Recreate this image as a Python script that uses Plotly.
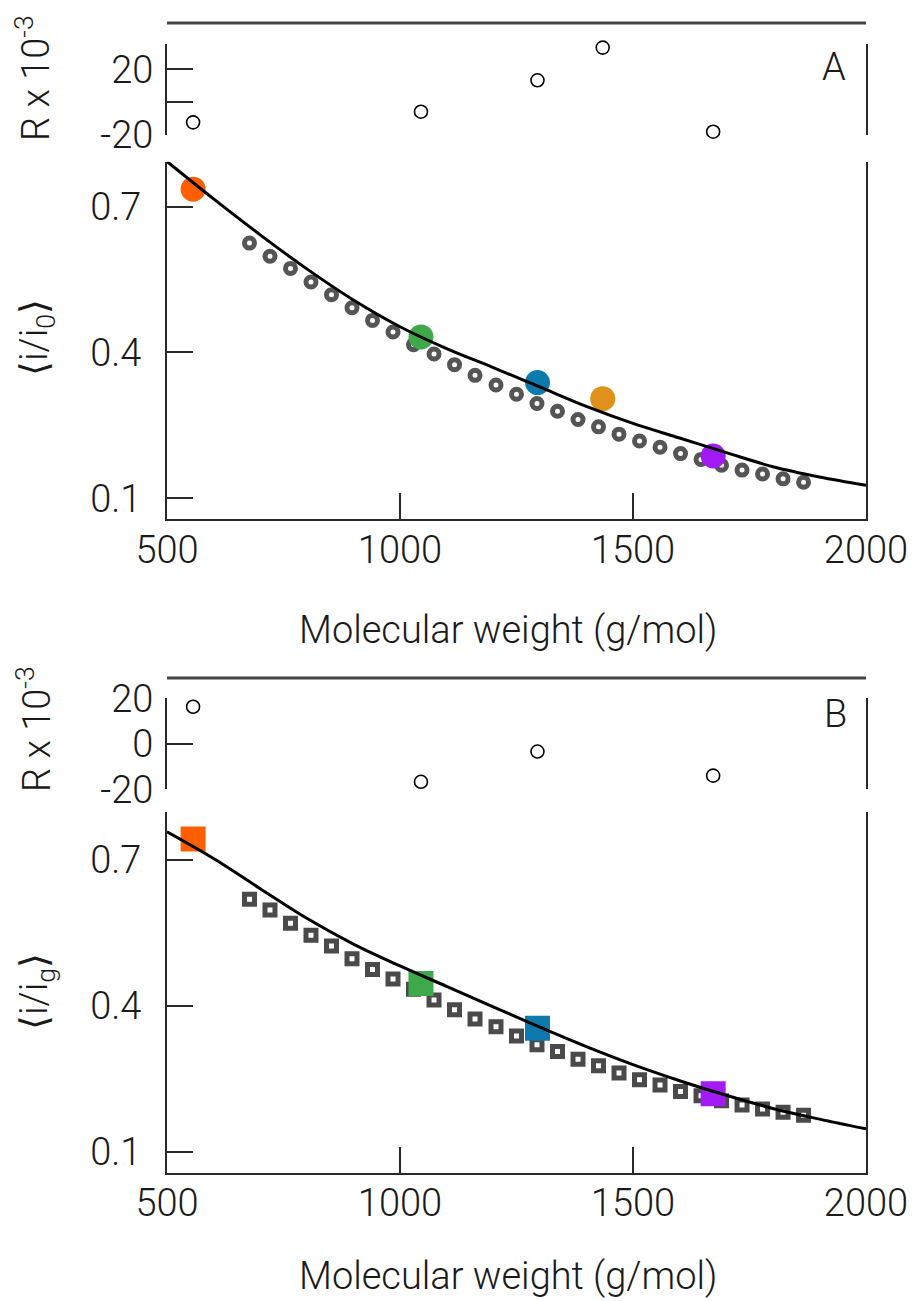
import plotly.graph_objects as go

# page has an 8px body margin; figure fills the rest of the 915x1301 window
OFF = 8
W, H = 915 - OFF, 1301 - OFF

# ---------------- data ----------------
mw_series = [677, 721, 765, 809, 853, 897, 941, 985, 1029, 1073, 1117, 1161, 1206, 1250,
             1294, 1338, 1382, 1426, 1470, 1514, 1558, 1602, 1646, 1690, 1734, 1778, 1822, 1866]
series_a = [0.625, 0.598, 0.573, 0.545, 0.519, 0.492, 0.466, 0.442, 0.416, 0.397, 0.375, 0.353,
            0.333, 0.314, 0.295, 0.279, 0.262, 0.247, 0.232, 0.218, 0.205, 0.192, 0.180, 0.168,
            0.158, 0.150, 0.140, 0.133]
series_b = [0.619, 0.597, 0.570, 0.545, 0.523, 0.497, 0.475, 0.455, 0.434, 0.412, 0.392, 0.373,
            0.357, 0.338, 0.320, 0.306, 0.290, 0.277, 0.262, 0.248, 0.237, 0.224, 0.215, 0.205,
            0.196, 0.188, 0.181, 0.175]

mw_a = [556, 1045, 1295, 1435, 1672]
val_a = [0.736, 0.432, 0.338, 0.305, 0.187]
res_a = [-12.3, -5.8, 13.3, 33.2, -18.0]
col_a = ["#FF5F00", "#3EA94B", "#0C7AAD", "#E0911C", "#A21BF5"]

mw_b = [556, 1045, 1295, 1672]
val_b = [0.743, 0.446, 0.354, 0.219]
res_b = [16.3, -16.7, -3.4, -14.0]
col_b = ["#FF5F00", "#3EA94B", "#0C7AAD", "#A21BF5"]

fit_x = [500, 600, 700, 800, 900, 1000, 1100, 1200, 1300, 1400, 1500, 1600, 1700, 1800, 1900, 2000]
fit_a = [0.793, 0.716, 0.642, 0.572, 0.508, 0.453, 0.408, 0.369, 0.329, 0.289, 0.254, 0.224,
         0.194, 0.165, 0.144, 0.127]
fit_b = [0.758, 0.703, 0.641, 0.580, 0.527, 0.482, 0.440, 0.398, 0.356, 0.316, 0.279, 0.246,
         0.216, 0.189, 0.167, 0.147]

x_ticks = [500, 1000, 1500, 2000]
main_ticks = [0.1, 0.4, 0.7]
res_ticks = [-20, 0, 20]

# ---------------- layout helpers ----------------
FONT = "Roboto, Liberation Sans, Arial, sans-serif"
FW = 300
FS = 38
AX = "#2a2a2a"
GRAY = "#555555"
TXT = "#1a1a1a"

def px_x(px):
    return (px - OFF) / W

def px_y(py):
    return 1 - (py - OFF) / H

X0, X1 = 167, 866
xdom = [px_x(X0), px_x(X1)]

fig = go.Figure()

# ---- Panel A main ----
fig.add_trace(go.Scatter(x=mw_series, y=series_a, mode="markers", xaxis="x", yaxis="y",
                         marker=dict(symbol="circle", size=10, color="white",
                                     line=dict(color=GRAY, width=5)), showlegend=False))
fig.add_trace(go.Scatter(x=mw_a, y=val_a, mode="markers", xaxis="x", yaxis="y",
                         marker=dict(symbol="circle", size=25, color=col_a, line=dict(width=0)),
                         showlegend=False))
fig.add_trace(go.Scatter(x=fit_x, y=fit_a, mode="lines", xaxis="x", yaxis="y",
                         line=dict(color="black", width=3, shape="spline"), showlegend=False))
# ---- Panel A residuals ----
fig.add_trace(go.Scatter(x=mw_a, y=res_a, mode="markers", xaxis="x2", yaxis="y2",
                         cliponaxis=False,
                         marker=dict(symbol="circle-open", size=13, color="black",
                                     line=dict(width=1.6)), showlegend=False))

# ---- Panel B main ----
fig.add_trace(go.Scatter(x=mw_series, y=series_b, mode="markers", xaxis="x3", yaxis="y3",
                         marker=dict(symbol="square", size=10, color="white",
                                     line=dict(color="#4a4a4a", width=5)), showlegend=False))
fig.add_trace(go.Scatter(x=mw_b, y=val_b, mode="markers", xaxis="x3", yaxis="y3",
                         marker=dict(symbol="square", size=25, color=col_b, line=dict(width=0)),
                         showlegend=False))
fig.add_trace(go.Scatter(x=fit_x, y=fit_b, mode="lines", xaxis="x3", yaxis="y3",
                         line=dict(color="black", width=3, shape="spline"), showlegend=False))
# ---- Panel B residuals ----
fig.add_trace(go.Scatter(x=mw_b, y=res_b, mode="markers", xaxis="x4", yaxis="y4",
                         cliponaxis=False,
                         marker=dict(symbol="circle-open", size=13, color="black",
                                     line=dict(width=1.6)), showlegend=False))

tickfont = dict(family=FONT, size=FS, color=TXT, weight=FW)

def main_x(anchor):
    return dict(domain=xdom, range=[500, 2000], anchor=anchor, showline=True, linecolor=AX,
                linewidth=2, mirror=False, ticks="inside", ticklen=26, tickwidth=2,
                tickcolor=AX, tickvals=x_ticks, ticktext=[str(v) for v in x_ticks],
                tickfont=tickfont, showgrid=False, zeroline=False, ticklabelstandoff=-4,
                ticklabeloverflow="allow", automargin=False)

def hidden_x(anchor, match):
    return dict(domain=xdom, range=[500, 2000], anchor=anchor, visible=False, matches=match,
                automargin=False)

def main_y(dom, rng, anchor):
    return dict(domain=dom, range=rng, anchor=anchor, showline=True, linecolor=AX, linewidth=2,
                mirror=True, ticks="inside", ticklen=26, tickwidth=2, tickcolor=AX,
                tickvals=main_ticks, ticktext=["0.1", "0.4", "0.7"], tickfont=tickfont,
                showgrid=False, zeroline=False, ticklabelstandoff=16,
                ticklabeloverflow="allow", automargin=False)

def res_y(dom, rng, anchor, labels):
    return dict(domain=dom, range=rng, anchor=anchor, showline=True, linecolor=AX, linewidth=2,
                mirror=True, ticks="inside", ticklen=26, tickwidth=2, tickcolor=AX,
                tickvals=res_ticks, ticktext=labels, tickfont=tickfont,
                showgrid=False, zeroline=False, ticklabelstandoff=4,
                ticklabeloverflow="allow", automargin=False)

annotations = []

def ann(text, px, py, angle=0, size=FS):
    annotations.append(dict(text=text, x=px_x(px), y=px_y(py), xref="paper", yref="paper",
                            showarrow=False, textangle=angle, xanchor="center", yanchor="middle",
                            font=dict(family=FONT, size=size, color=TXT, weight=FW)))

ann("R x 10<sup>-3</sup>", 33, 78, -90)
ann("⟨i/i<sub>0</sub>⟩", 36, 338, -90)
ann("Molecular weight (g/mol)", 508, 630)
ann("A", 834, 67)
ann("R x 10<sup>-3</sup>", 34, 729, -90)
ann("⟨i/i<sub>g</sub>⟩", 36, 992, -90)
ann("Molecular weight (g/mol)", 508, 1276)
ann("B", 835, 714)

shapes = [
    dict(type="line", xref="paper", yref="paper", x0=xdom[0], x1=xdom[1],
         y0=px_y(23), y1=px_y(23), line=dict(color="#444444", width=3)),
    dict(type="line", xref="paper", yref="paper", x0=xdom[0], x1=xdom[1],
         y0=px_y(678), y1=px_y(678), line=dict(color="#444444", width=3)),
]

fig.update_layout(
    width=W, height=H,
    margin=dict(l=0, r=0, t=0, b=0, pad=0, autoexpand=False),
    paper_bgcolor="white", plot_bgcolor="white",
    showlegend=False,
    xaxis=main_x("y"),
    yaxis=main_y([px_y(519.3), px_y(161.7)], [0.0568, 0.7925], "x"),
    xaxis2=hidden_x("y2", "x"),
    yaxis2=res_y([px_y(135), px_y(44)], [-20, 35.4], "x2", ["-20", "", "20"]),
    xaxis3=main_x("y3"),
    yaxis3=main_y([px_y(1172.7), px_y(812)], [0.0568, 0.7987], "x3"),
    xaxis4=hidden_x("y4", "x3"),
    yaxis4=res_y([px_y(789.3), px_y(698.3)], [-20, 20], "x4", ["-20", "0", "20"]),
    annotations=annotations,
    shapes=shapes,
)

fig.write_html("out.html")
